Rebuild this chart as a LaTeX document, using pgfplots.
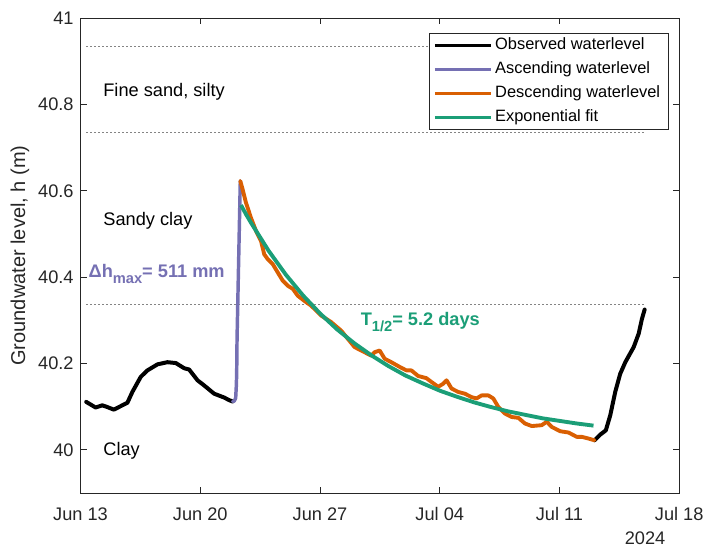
\documentclass[border=0pt]{standalone}
\usepackage{pgfplots}
\pgfplotsset{compat=1.18}
\usepackage{fontspec}
\setmainfont{Liberation Sans}
\definecolor{cpurple}{HTML}{7570B3}
\definecolor{corange}{HTML}{D95F02}
\definecolor{cgreen}{HTML}{1B9E77}
\definecolor{axgray}{RGB}{38,38,38}
\definecolor{dotgray}{RGB}{105,105,105}
\newcommand{\sub}[1]{\raisebox{-5pt}{\fontsize{11}{13}\selectfont #1}}
\begin{document}
\begin{tikzpicture}
\begin{axis}[
  at={(0,0)}, anchor=south west,
  scale only axis, width=449pt, height=356pt,
  clip=false,
  xmin=0, xmax=35, ymin=39.9, ymax=41,
  xtick={0,7,14,21,28,35},
  xticklabels={Jun 13,Jun 20,Jun 27,Jul 04,Jul 11,Jul 18},
  ytick={40,40.2,40.4,40.6,40.8,41},
  yticklabels={40,40.2,40.4,40.6,40.8,41},
  xtick pos=both, ytick pos=both,
  tick align=inside, major tick length=4.5pt,
  axis line style={axgray, line width=0.6pt},
  tick style={axgray, line width=0.6pt},
  ticklabel style={font=\fontsize{13.65}{16}\selectfont, text=axgray},
  xticklabel style={anchor=base, yshift=-21pt},
  yticklabel style={xshift=-1.7pt},
  /pgf/number format/assume math mode=true,
  ylabel={Groundwater level, h (m)},
  every axis y label/.style={at={(axis description cs:-0.101,0.5)}, rotate=90, anchor=center,
     font=\fontsize{15}{18}\selectfont, text=axgray},
  legend style={at={(rel axis cs:0.9816,0.969)}, anchor=north east,
     draw=axgray, line width=0.5pt, fill=white,
     font=\fontsize{12.3}{14}\selectfont,
     inner xsep=3.5pt, inner ysep=3pt, row sep=5.7pt,
     nodes={inner xsep=2.25pt, inner ysep=0pt, text height=9.3pt, text depth=3pt},
     cells={anchor=west}},
  legend image code/.code={\draw[#1, line width=2pt, line cap=butt] (0pt,0pt) -- (42pt,0pt);},
  every axis plot/.append style={line join=round, line cap=round},
]
% layer boundaries
\addplot[dotgray, line width=0.6pt, dash pattern=on 0.7pt off 2.3pt, forget plot] coordinates {(0.35,40.935) (32.95,40.935)};
\addplot[dotgray, line width=0.6pt, dash pattern=on 0.7pt off 2.3pt, forget plot] coordinates {(0.35,40.736) (32.95,40.736)};
\addplot[dotgray, line width=0.6pt, dash pattern=on 0.7pt off 2.3pt, forget plot] coordinates {(0.35,40.336) (32.95,40.336)};

% observed (before event)
\addplot[black, line width=3pt] coordinates {
(0.33,40.111)(0.88,40.098)(1.27,40.103)(1.57,40.099)(1.95,40.093)(2.44,40.103)(2.74,40.109)
(3.03,40.134)(3.52,40.169)(3.91,40.184)(4.50,40.198)(5.08,40.203)(5.57,40.201)(6.06,40.189)
(6.35,40.186)(6.84,40.161)(7.23,40.149)(7.81,40.130)(8.40,40.121)(8.69,40.115)(8.89,40.112)};
\addlegendentry{Observed waterlevel}
% observed (after event)
\addplot[black, line width=3pt, forget plot] coordinates {
(30.05,40.022)(30.38,40.035)(30.71,40.045)(30.97,40.080)(31.26,40.134)(31.55,40.176)
(31.85,40.203)(32.34,40.238)(32.63,40.269)(32.82,40.303)(32.98,40.325)};
% ascending
\addplot[cpurple, line width=2.6pt] coordinates {
(8.89,40.112)(8.99,40.113)(9.07,40.120)(9.11,40.150)(9.13,40.181)(9.15,40.257)(9.34,40.623)};
\addlegendentry{Ascending waterlevel}
% descending
\addplot[corange, line width=2.9pt] coordinates {
(9.34,40.623)(9.48,40.603)(9.67,40.573)(9.96,40.538)(10.26,40.507)(10.55,40.484)(10.74,40.453)
(10.94,40.442)(11.24,40.430)(11.53,40.411)(11.82,40.392)(12.12,40.380)(12.41,40.373)(12.70,40.357)
(13.09,40.345)(13.48,40.334)(14.07,40.311)(14.65,40.296)(15.24,40.276)(15.63,40.257)(16.02,40.238)
(16.61,40.226)(17.00,40.218)(17.19,40.226)(17.49,40.230)(17.78,40.211)(18.17,40.203)(18.66,40.192)
(19.05,40.184)(19.34,40.184)(19.74,40.171)(20.22,40.166)(20.52,40.157)(20.91,40.146)(21.20,40.153)
(21.40,40.161)(21.69,40.142)(22.08,40.134)(22.47,40.130)(22.86,40.122)(23.15,40.119)(23.45,40.126)
(23.84,40.126)(24.13,40.119)(24.43,40.099)(24.81,40.084)(25.21,40.076)(25.60,40.074)(25.98,40.061)
(26.38,40.055)(26.96,40.057)(27.26,40.065)(27.55,40.053)(28.04,40.043)(28.53,40.040)(29.01,40.030)
(29.31,40.030)(29.70,40.026)(30.05,40.022)};
\addlegendentry{Descending waterlevel}
% exponential fit
\addplot[cgreen, line width=2.9pt, line cap=butt] coordinates {
(9.38,40.567)(9.7,40.544)(10,40.524)(11,40.461)(12,40.406)(13,40.358)(14,40.316)(15,40.279)
(16,40.247)(17,40.219)(18,40.194)(19,40.172)(20,40.154)(21,40.137)(22,40.123)(23,40.110)
(24,40.099)(25,40.089)(26,40.081)(27,40.073)(28,40.067)(29,40.061)(29.99,40.056)};
\addlegendentry{Exponential fit}

\node[anchor=base west, inner sep=0pt, font=\fontsize{13.65}{16}\selectfont] at (axis cs:1.32,40.819) {Fine sand, silty};
\node[anchor=base west, inner sep=0pt, font=\fontsize{13.65}{16}\selectfont] at (axis cs:1.32,40.519) {Sandy clay};
\node[anchor=base west, inner sep=0pt, font=\fontsize{13.65}{16}\selectfont] at (axis cs:1.32,39.986) {Clay};
\node[anchor=base west, inner sep=0pt, text=cpurple, font=\fontsize{13.65}{16}\selectfont\bfseries] at (axis cs:0.46,40.400) {Δh\sub{max}= 511 mm};
\node[anchor=base west, inner sep=0pt, text=cgreen, font=\fontsize{13.65}{16}\selectfont\bfseries] at (axis cs:16.37,40.289) {T\sub{1/2}= 5.2 days};
\node[anchor=base, inner sep=0pt, text=axgray, font=\fontsize{13.65}{16}\selectfont] at (rel axis cs:0.943,0) [yshift=-39pt] {2024};
\end{axis}
\pgfresetboundingbox
\useasboundingbox (-60.4pt,-40.5pt) rectangle (467.6pt,369.7pt);
\end{tikzpicture}
\end{document}
